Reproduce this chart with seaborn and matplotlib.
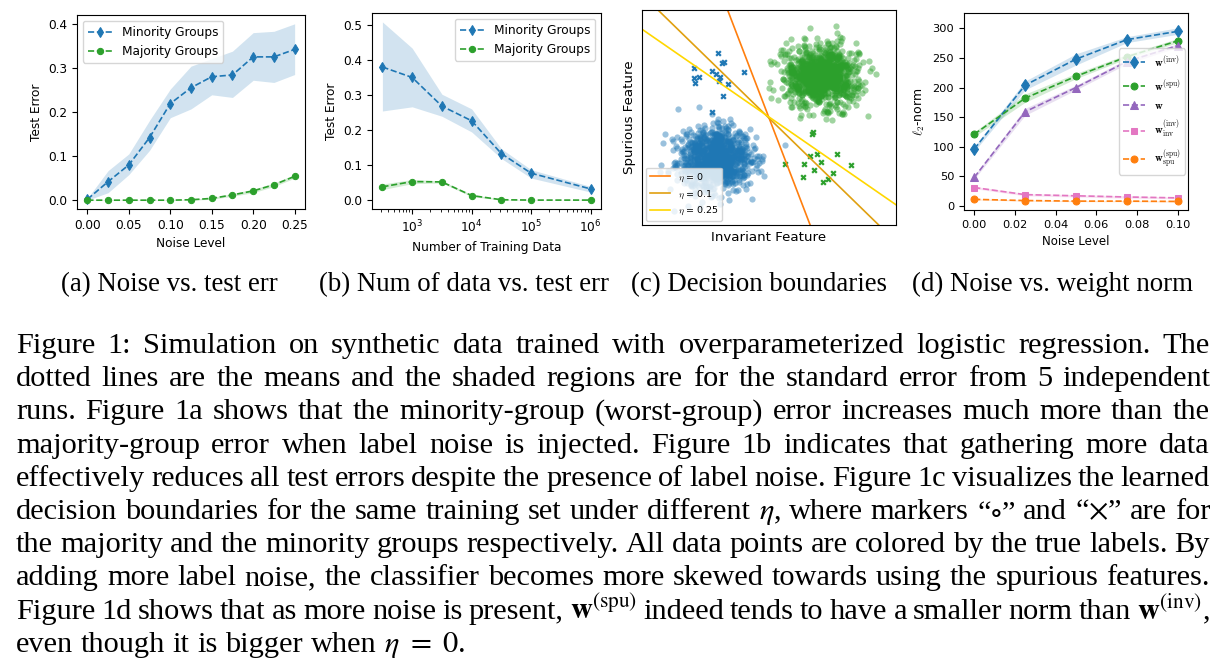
import re
import numpy as np
import matplotlib
matplotlib.use('Agg')
import matplotlib.pyplot as plt
from matplotlib.font_manager import FontProperties
import seaborn as sns

BLUE = '#1f77b4'
GREEN = '#2ca02c'
ORANGE = '#ff7f0e'
PURPLE = '#9467bd'
PINK = '#e377c2'

# (a) noise level vs test error
noise_a = [0.0, 0.025, 0.05, 0.075, 0.1, 0.125, 0.15, 0.175, 0.2, 0.225, 0.25]
minority_a = [0.002, 0.042, 0.080, 0.142, 0.219, 0.255, 0.280, 0.284, 0.325, 0.325, 0.342]
minority_a_lo = [0.0, 0.017, 0.058, 0.113, 0.187, 0.207, 0.239, 0.233, 0.272, 0.267, 0.285]
minority_a_hi = [0.004, 0.067, 0.105, 0.181, 0.252, 0.304, 0.321, 0.338, 0.380, 0.383, 0.400]
majority_a = [0.0, 0.0, 0.0, 0.0, 0.0, 0.001, 0.004, 0.012, 0.021, 0.035, 0.054]
majority_a_lo = [0.0, 0.0, 0.0, 0.0, 0.0, 0.0, 0.002, 0.009, 0.017, 0.031, 0.050]
majority_a_hi = [0.001, 0.001, 0.001, 0.001, 0.001, 0.002, 0.006, 0.015, 0.025, 0.039, 0.058]

# (b) number of training data vs test error
n_train = [316, 1000, 3162, 10000, 31623, 100000, 1000000]
minority_b = [0.381, 0.351, 0.269, 0.227, 0.133, 0.077, 0.032]
minority_b_lo = [0.255, 0.267, 0.240, 0.195, 0.119, 0.063, 0.023]
minority_b_hi = [0.510, 0.435, 0.303, 0.261, 0.147, 0.087, 0.039]
majority_b = [0.038, 0.053, 0.052, 0.013, 0.001, 0.0, 0.0]
majority_b_lo = [0.030, 0.047, 0.049, 0.010, 0.0, 0.0, 0.0]
majority_b_hi = [0.046, 0.059, 0.055, 0.016, 0.002, 0.001, 0.001]

# (c) decision boundaries
blue_center = [2.85, 2.6]
blue_spread = [0.72, 0.62]
green_center = [7.04, 5.9]
green_spread = [0.70, 0.60]
cluster_size = 1000
blue_cross_x = [3.00, 3.16, 3.21, 2.05, 2.75, 2.93, 3.07, 4.00, 2.04, 2.24, 3.05, 2.07, 3.37, 3.17, 2.74]
blue_cross_y = [6.79, 6.42, 6.43, 6.20, 6.09, 5.96, 5.87, 6.03, 5.83, 5.86, 5.70, 5.62, 5.59, 5.11, 4.45]
green_cross_x = [6.74, 6.71, 5.63, 6.62, 6.88, 7.67, 6.39, 7.05, 8.24, 6.76, 7.53, 6.33, 7.34, 7.13]
green_cross_y = [3.66, 3.61, 2.43, 2.71, 2.79, 2.80, 2.42, 2.50, 2.37, 2.18, 2.05, 1.91, 1.83, 1.70]
eta_values = ['0', '0.1', '0.25']
eta_colors = ['#ff7f0e', '#e0a010', '#ffd700']
boundary_x = [[3.37, 6.62], [0.63, 9.32], [0.0, 10.0]]
boundary_y = [[8.5, 0.0], [8.5, 0.0], [7.74, 0.80]]

# (d) noise level vs weight norm
noise_d = [0.0, 0.025, 0.05, 0.075, 0.1]
norm_inv = [96, 204, 248, 281, 295]
norm_inv_lo = [92, 196, 238, 276, 290]
norm_inv_hi = [100, 211, 257, 286, 301]
norm_spu = [121, 182, 219, 252, 279]
norm_spu_lo = [117, 175, 215, 249, 276]
norm_spu_hi = [125, 189, 224, 256, 283]
norm_w = [48, 159, 200, 244, 271]
norm_w_lo = [45, 153, 196, 240, 268]
norm_w_hi = [51, 165, 204, 248, 274]
norm_inv_inv = [31, 19, 17, 15, 13.5]
norm_inv_inv_lo = [29, 17, 15, 13, 12]
norm_inv_inv_hi = [33, 21, 19, 17, 15]
norm_spu_spu = [11, 9, 8, 8, 7.5]
norm_spu_spu_lo = [10, 8, 7, 7, 6.5]
norm_spu_spu_hi = [12, 10, 9, 9, 8.5]

subcaptions = ['(a) Noise vs. test err', '(b) Num of data vs. test err',
               '(c) Decision boundaries', '(d) Noise vs. weight norm']
caption_lines = [
    'Figure 1: Simulation on synthetic data trained with overparameterized logistic regression. The',
    'dotted lines are the means and the shaded regions are for the standard error from 5 independent',
    'runs. Figure 1a shows that the minority-group (worst-group) error increases much more than the',
    'majority-group error when label noise is injected. Figure 1b indicates that gathering more data',
    'effectively reduces all test errors despite the presence of label noise. Figure 1c visualizes the learned',
    r'decision boundaries for the same training set under different $\eta$, where markers “$\circ$” and “$\times$” are for',
    'the majority and the minority groups respectively. All data points are colored by the true labels. By',
    'adding more label noise, the classifier becomes more skewed towards using the spurious features.',
    r'Figure 1d shows that as more noise is present, $\mathbf{w}^{(\mathrm{spu})}$ indeed tends to have a smaller norm than $\mathbf{w}^{(\mathrm{inv})}$,',
    r'even though it is bigger when $\eta\ =\ 0$.',
]

W, H = 1230, 668
fig = plt.figure(figsize=(W / 100, H / 100), dpi=100)


def px_axes(left, top, right, bottom):
    return fig.add_axes([left / W, 1 - bottom / H, (right - left) / W, (bottom - top) / H])


def mean_band(ax, x, mean, lo, hi, color, marker, label, ms=6):
    sns.lineplot(x=x, y=mean, ax=ax, color=color, marker=marker, markersize=ms,
                 linestyle='--', linewidth=1.2, markeredgecolor=color, label=label)
    ax.fill_between(x, lo, hi, color=color, alpha=0.2, linewidth=0)


FS = 8.7

# (a)
ax = px_axes(77, 15, 305, 209)
mean_band(ax, noise_a, minority_a, minority_a_lo, minority_a_hi, BLUE, 'd', 'Minority Groups', 5.5)
mean_band(ax, noise_a, majority_a, majority_a_lo, majority_a_hi, GREEN, 'o', 'Majority Groups', 4.5)
ax.set_xlabel('Noise Level', fontsize=FS)
ax.set_ylabel('Test Error', fontsize=FS)
ax.tick_params(labelsize=FS)
ax.legend(loc='upper left', fontsize=FS)

# (b)
ax = px_axes(372, 13, 601, 209)
mean_band(ax, n_train, minority_b, minority_b_lo, minority_b_hi, BLUE, 'd', 'Minority Groups', 5.5)
mean_band(ax, n_train, majority_b, majority_b_lo, majority_b_hi, GREEN, 'o', 'Majority Groups', 4.5)
ax.set_xscale('log')
ax.set_xlabel('Number of Training Data', fontsize=FS)
ax.set_ylabel('Test Error', fontsize=FS)
ax.set_yticks([0.0, 0.1, 0.2, 0.3, 0.4, 0.5])
ax.tick_params(labelsize=FS)
ax.legend(loc='upper right', fontsize=FS)

# (c)
ax = px_axes(642, 10, 896, 225)
rng = np.random.default_rng(3)
blue_pts = rng.normal(blue_center, blue_spread, size=(cluster_size, 2))
green_pts = rng.normal(green_center, green_spread, size=(cluster_size, 2))
sns.scatterplot(x=blue_pts[:, 0], y=blue_pts[:, 1], ax=ax, color=BLUE, alpha=0.45, s=20, linewidth=0)
sns.scatterplot(x=green_pts[:, 0], y=green_pts[:, 1], ax=ax, color=GREEN, alpha=0.45, s=20, linewidth=0)
sns.scatterplot(x=blue_cross_x, y=blue_cross_y, ax=ax, color=BLUE, marker='X', s=20, linewidth=0)
sns.scatterplot(x=green_cross_x, y=green_cross_y, ax=ax, color=GREEN, marker='X', s=20, linewidth=0)
for eta, col, bx, by in zip(eta_values, eta_colors, boundary_x, boundary_y):
    sns.lineplot(x=bx, y=by, ax=ax, color=col, linewidth=1.2, sort=False,
                 label=r'$\eta$ = ' + eta)
ax.set_xlim(0, 10)
ax.set_ylim(0, 8.5)
ax.set_xticks([])
ax.set_yticks([])
ax.set_xlabel('Invariant Feature', fontsize=9.6)
ax.set_ylabel('Spurious Feature', fontsize=9.6)
ax.legend(loc='lower left', prop=FontProperties(size=6.8, math_fontfamily='cm'),
          handlelength=2.2, borderaxespad=0.4)

# (d)
ax = px_axes(964, 13, 1188, 210)
mean_band(ax, noise_d, norm_inv, norm_inv_lo, norm_inv_hi, BLUE, 'd', r'$\mathbf{w}^{(\mathrm{inv})}$', 6)
mean_band(ax, noise_d, norm_spu, norm_spu_lo, norm_spu_hi, GREEN, 'o', r'$\mathbf{w}^{(\mathrm{spu})}$', 5)
mean_band(ax, noise_d, norm_w, norm_w_lo, norm_w_hi, PURPLE, '^', r'$\mathbf{w}$', 5.5)
mean_band(ax, noise_d, norm_inv_inv, norm_inv_inv_lo, norm_inv_inv_hi, PINK, 's', r'$\mathbf{w}_{\mathrm{inv}}^{(\mathrm{inv})}$', 5)
mean_band(ax, noise_d, norm_spu_spu, norm_spu_spu_lo, norm_spu_spu_hi, ORANGE, 'o', r'$\mathbf{w}_{\mathrm{spu}}^{(\mathrm{spu})}$', 5)
ax.set_ylim(-7, 326)
ax.set_yticks([0, 50, 100, 150, 200, 250, 300])
ax.set_xlabel('Noise Level', fontsize=8.5)
ax.set_ylabel(r'$\ell_2$-norm', fontsize=9, math_fontfamily='cm')
ax.tick_params(labelsize=8.2)
ax.legend(loc='center right', prop=FontProperties(size=7.8, math_fontfamily='cm'),
          labelspacing=0.75, handlelength=2.0, borderaxespad=0.3)

# sub-captions
cap_props = dict(family='Liberation Serif', size=19.4, color='black', va='baseline', ha='center')
for txt, cx in zip(subcaptions, [169, 464, 759, 1053]):
    fig.text(cx / W, 1 - 291 / H, txt, **cap_props)

# justified caption paragraph
para = dict(family='Liberation Serif', size=21.9, color='black', va='baseline', ha='left',
            math_fontfamily='stix')
renderer = fig.canvas.get_renderer()
x0, x1 = 16, 1210
probe2 = fig.text(0, 0, 'a a', **para)
probe1 = fig.text(0, 0, 'a', **para)
space_w = probe2.get_window_extent(renderer).width - 2 * probe1.get_window_extent(renderer).width
probe2.remove()
probe1.remove()
for i, line in enumerate(caption_lines):
    y = 1 - (353 + i * 33.2) / H
    tokens = re.findall(r'(?:[^\s$]|\$[^$]*\$)+', line)
    words = [fig.text(0, y, w, **para) for w in tokens]
    widths = [t.get_window_extent(renderer).width for t in words]
    if i < len(caption_lines) - 1:
        gap = (x1 - x0 - sum(widths)) / (len(words) - 1)
    else:
        gap = space_w
    x = x0
    for t, w in zip(words, widths):
        t.set_x(x / W)
        x += w + gap

fig.savefig('out.png', dpi=100)
